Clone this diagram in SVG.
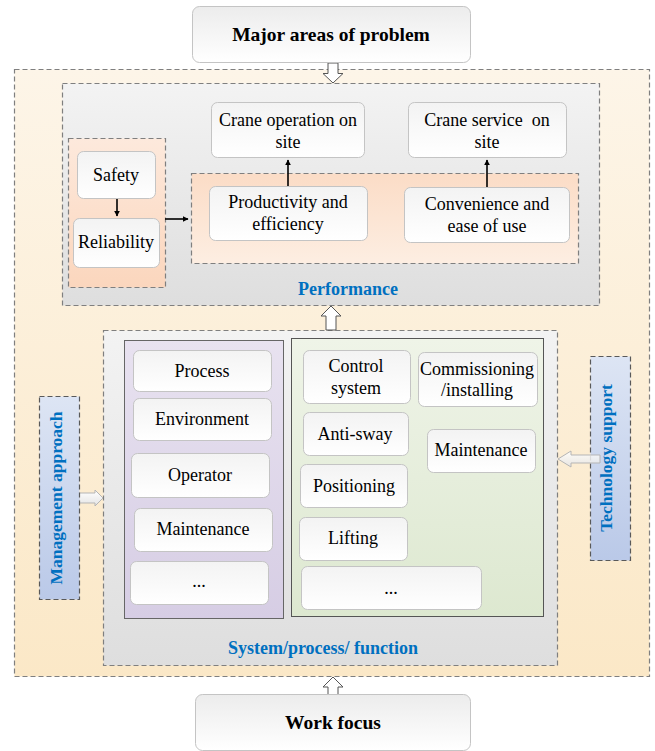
<svg xmlns="http://www.w3.org/2000/svg" width="655" height="751" viewBox="0 0 655 751">
<style>
text{font-family:"Liberation Serif","Times New Roman",serif;fill:#000;}
.t{font-size:18px;text-anchor:middle;}
.h{font-size:19.5px;font-weight:bold;text-anchor:middle;}
.b{font-size:18px;font-weight:bold;fill:#0070c0;text-anchor:middle;}
.node{fill:url(#gNode);stroke:#c4c4c4;stroke-width:1;}
.big{fill:url(#gBig);stroke:#c4c4c4;stroke-width:1;}
.dash{stroke:#7f7f7f;stroke-width:1.2;stroke-dasharray:5,3;}
.hollow{fill:#fff;stroke:#555;stroke-width:1;}
.conn{stroke:#000;stroke-width:1.6;fill:none;marker-end:url(#ah);}
</style>
<defs>
<linearGradient id="gNode" x1="0" y1="0" x2="0" y2="1"><stop offset="0" stop-color="#f3f3f3"/><stop offset="1" stop-color="#ffffff"/></linearGradient>
<linearGradient id="gBig" x1="0" y1="0" x2="0" y2="1"><stop offset="0" stop-color="#ececec"/><stop offset="1" stop-color="#ffffff"/></linearGradient>
<linearGradient id="gOuter" x1="0" y1="0" x2="0" y2="1"><stop offset="0" stop-color="#fdf5e8"/><stop offset="1" stop-color="#fbe8c7"/></linearGradient>
<linearGradient id="gGray" x1="0" y1="0" x2="0" y2="1"><stop offset="0" stop-color="#f3f3f3"/><stop offset="1" stop-color="#dedede"/></linearGradient>
<linearGradient id="gPeach" x1="0" y1="0" x2="0" y2="1"><stop offset="0" stop-color="#fde9dc"/><stop offset="1" stop-color="#fbd6bd"/></linearGradient>
<linearGradient id="gPeach2" x1="0" y1="0" x2="0" y2="1"><stop offset="0" stop-color="#fbdcc6"/><stop offset="1" stop-color="#fdeee2"/></linearGradient>
<linearGradient id="gPurple" x1="0" y1="0" x2="0" y2="1"><stop offset="0" stop-color="#e8e2f0"/><stop offset="1" stop-color="#d6cde4"/></linearGradient>
<linearGradient id="gGreen" x1="0" y1="0" x2="0" y2="1"><stop offset="0" stop-color="#eff4e8"/><stop offset="1" stop-color="#dde8d0"/></linearGradient>
<linearGradient id="gBlue" x1="0" y1="0" x2="0" y2="1"><stop offset="0" stop-color="#dde5f4"/><stop offset="1" stop-color="#bac9e8"/></linearGradient>
<linearGradient id="gArrow" x1="0" y1="0" x2="0" y2="1"><stop offset="0" stop-color="#ffffff"/><stop offset="1" stop-color="#e4e4e4"/></linearGradient>
<marker id="ah" viewBox="0 0 10 10" refX="9" refY="5" markerWidth="6" markerHeight="6" orient="auto" markerUnits="userSpaceOnUse"><path d="M0,0 L10,5 L0,10 Z" fill="#000"/></marker>
</defs>

<g id="outer-region"><rect x="14.5" y="69.5" width="635" height="607" fill="url(#gOuter)" class="dash"/></g>

<g id="performance-region">
<rect x="62.5" y="83.5" width="537" height="222" fill="url(#gGray)" class="dash"/>
<text class="b" x="348" y="295">Performance</text>
</g>
<g id="safety-group"><rect x="68.5" y="138.5" width="97" height="149" fill="url(#gPeach)" class="dash"/></g>
<g id="perf-group"><rect x="191.5" y="173.5" width="387" height="90" fill="url(#gPeach2)" class="dash"/></g>

<g id="system-region">
<rect x="103.5" y="330.5" width="454" height="335" fill="url(#gGray)" class="dash"/>
<text class="b" x="323" y="654">System/process/ function</text>
</g>
<g id="purple-panel"><rect x="124.5" y="340.5" width="159" height="278" fill="url(#gPurple)" stroke="#666" stroke-width="1"/></g>
<g id="green-panel"><rect x="291.5" y="338.5" width="252" height="278" fill="url(#gGreen)" stroke="#555" stroke-width="1"/></g>

<g id="connectors">
<polygon class="hollow" points="328,63 338,63 338,73.5 343,73.5 333,83 323,73.5 328,73.5"/>
<polygon class="hollow" points="331,306 341,316 336,316 336,330 326,330 326,316 321,316"/>
<polygon class="hollow" points="333,677 343,687 338,687 338,695 328,695 328,687 323,687"/>
<polygon points="79,493 95,493 95,490 103,498 95,506 95,503 79,503" fill="url(#gArrow)" stroke="#b5b5b5" stroke-width="1"/>
<line class="conn" x1="117" y1="199" x2="117" y2="216"/>
<line class="conn" x1="165" y1="219" x2="188" y2="219"/>
<line class="conn" x1="288" y1="186" x2="288" y2="160"/>
<line class="conn" x1="487" y1="187" x2="487" y2="160"/>
</g>

<g id="major-areas"><rect class="big" x="192.5" y="6.5" width="278" height="56" rx="7"/><text class="h" x="331" y="41">Major areas of problem</text></g>
<g id="work-focus"><rect class="big" x="195.5" y="694.5" width="275" height="56" rx="7"/><text class="h" x="333" y="729">Work focus</text></g>

<g id="management-approach"><rect x="39.5" y="396.5" width="40" height="203" fill="url(#gBlue)" stroke="#595959" stroke-width="1.2" stroke-dasharray="5,3"/><text class="b" transform="translate(62,498) rotate(-90)" style="font-size:17.5px">Management approach</text></g>
<g id="technology-support"><rect x="590.5" y="356.5" width="40" height="204" fill="url(#gBlue)" stroke="#595959" stroke-width="1.2" stroke-dasharray="5,3"/>
<polygon points="600,455 571,455 571,451 558,459 571,467 571,463 600,463" fill="url(#gArrow)" fill-opacity="0.85" stroke="#b5b5b5" stroke-width="1"/>
<text class="b" transform="translate(612,458) rotate(-90)" style="font-size:17.5px">Technology support</text></g>

<g id="crane-operation"><rect class="node" x="211.5" y="102.5" width="153" height="55" rx="6"/><text class="t" x="288" y="126">Crane operation on</text><text class="t" x="288" y="148">site</text></g>
<g id="crane-service"><rect class="node" x="408.5" y="102.5" width="158" height="55" rx="6"/><text class="t" x="487" y="126" xml:space="preserve">Crane service  on</text><text class="t" x="487" y="148">site</text></g>
<g id="safety"><rect class="node" x="77.5" y="151.5" width="78" height="47" rx="6"/><text class="t" x="116" y="181">Safety</text></g>
<g id="reliability"><rect class="node" x="73.5" y="218.5" width="86" height="49" rx="6"/><text class="t" x="116" y="248">Reliability</text></g>
<g id="productivity"><rect class="node" x="209.5" y="186.5" width="158" height="54" rx="6"/><text class="t" x="288" y="208">Productivity and</text><text class="t" x="288" y="230">efficiency</text></g>
<g id="convenience"><rect class="node" x="404.5" y="187.5" width="165" height="55" rx="6"/><text class="t" x="487" y="210">Convenience and</text><text class="t" x="487" y="232">ease of use</text></g>

<g id="process"><rect class="node" x="133.5" y="350.5" width="138" height="41" rx="6"/><text class="t" x="202" y="377">Process</text></g>
<g id="environment"><rect class="node" x="133.5" y="398.5" width="138" height="42" rx="6"/><text class="t" x="202" y="425">Environment</text></g>
<g id="operator"><rect class="node" x="131.5" y="453.5" width="138" height="44" rx="6"/><text class="t" x="200" y="481">Operator</text></g>
<g id="maintenance-1"><rect class="node" x="134.5" y="508.5" width="138" height="43" rx="6"/><text class="t" x="203" y="535">Maintenance</text></g>
<g id="more-1"><rect class="node" x="130.5" y="561.5" width="138" height="43" rx="6"/><text class="t" x="199" y="587">...</text></g>

<g id="control-system"><rect class="node" x="303.5" y="350.5" width="107" height="53" rx="6"/><text class="t" x="356" y="372">Control</text><text class="t" x="356" y="394">system</text></g>
<g id="commissioning"><rect class="node" x="418.5" y="352.5" width="119" height="54" rx="6"/><text class="t" x="477" y="375">Commissioning</text><text class="t" x="477" y="396">/installing</text></g>
<g id="anti-sway"><rect class="node" x="303.5" y="412.5" width="105" height="43" rx="6"/><text class="t" x="355" y="440">Anti-sway</text></g>
<g id="maintenance-2"><rect class="node" x="427.5" y="429.5" width="108" height="43" rx="6"/><text class="t" x="481" y="456">Maintenance</text></g>
<g id="positioning"><rect class="node" x="300.5" y="464.5" width="107" height="43" rx="6"/><text class="t" x="354" y="492">Positioning</text></g>
<g id="lifting"><rect class="node" x="299.5" y="517.5" width="108" height="43" rx="6"/><text class="t" x="353" y="544">Lifting</text></g>
<g id="more-2"><rect class="node" x="301.5" y="566.5" width="180" height="43" rx="6"/><text class="t" x="391" y="594">...</text></g>
</svg>
